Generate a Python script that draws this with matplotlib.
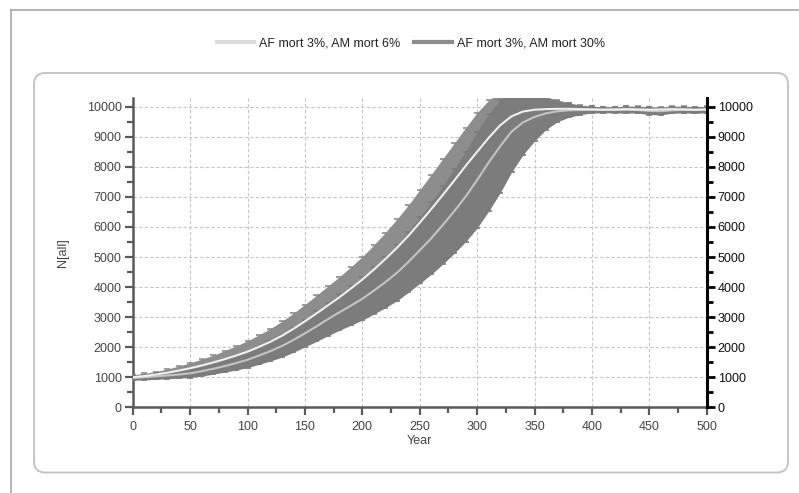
import numpy as np
import matplotlib
matplotlib.use("Agg")
import matplotlib.pyplot as plt
from matplotlib.patches import FancyBboxPatch
from matplotlib.lines import Line2D
from matplotlib.transforms import IdentityTransform
from matplotlib.ticker import MultipleLocator

# ---------------- data ----------------
years = list(range(0, 501, 10))

mean_6 = [1000, 1040, 1090, 1150, 1220, 1300, 1390, 1490, 1600, 1720,
          1850, 2010, 2180, 2380, 2610, 2860, 3120, 3390, 3660, 3950,
          4250, 4580, 4930, 5300, 5700, 6140, 6590, 7060, 7540, 8030,
          8500, 8960, 9380, 9680, 9840, 9900, 9920, 9930, 9930, 9920,
          9910, 9900, 9910, 9920, 9910, 9900, 9910, 9920, 9910, 9900, 9910]
sd_6 = [80, 90, 100, 120, 150, 180, 210, 240, 280, 320,
        360, 400, 440, 480, 520, 560, 600, 640, 680, 720,
        760, 820, 880, 950, 1020, 1090, 1150, 1200, 1240, 1270,
        1300, 1250, 1100, 900, 700, 520, 400, 300, 200, 130,
        100, 100, 90, 100, 110, 100, 90, 100, 110, 100, 100]

mean_30 = [980, 1000, 1030, 1060, 1090, 1130, 1200, 1280, 1370, 1470,
           1580, 1720, 1870, 2040, 2240, 2460, 2690, 2930, 3160, 3380,
           3610, 3880, 4160, 4470, 4830, 5220, 5620, 6060, 6520, 7010,
           7560, 8140, 8680, 9170, 9480, 9660, 9780, 9850, 9880, 9890,
           9900, 9900, 9890, 9900, 9890, 9860, 9850, 9880, 9900, 9890, 9900]
sd_30 = [80, 90, 100, 110, 120, 140, 160, 180, 200, 230,
         260, 290, 330, 370, 410, 450, 500, 550, 600, 650,
         710, 780, 850, 930, 1010, 1100, 1200, 1300, 1400, 1500,
         1600, 1620, 1550, 1350, 1080, 800, 540, 350, 230, 150,
         110, 100, 100, 110, 100, 120, 120, 100, 100, 110, 100]

label_6 = "AF mort 3%, AM mort 6%"
label_30 = "AF mort 3%, AM mort 30%"
x_ticks = list(range(0, 501, 50))
y_ticks = list(range(0, 10001, 1000))

# ---------------- figure ----------------
plt.rcParams['font.family'] = ['Liberation Sans', 'DejaVu Sans']
W, H = 799, 493
fig = plt.figure(figsize=(W / 100, H / 100), dpi=100)
fig.patch.set_facecolor('white')

# decorations (pixel coords, origin bottom-left)
ident = IdentityTransform()
fig.add_artist(Line2D([11, W], [H - 9.5, H - 9.5], transform=ident,
                      color='#a8a8a8', lw=1.2))
fig.add_artist(Line2D([11, 11], [0, H - 9.5], transform=ident,
                      color='#a8a8a8', lw=1.2))
box = FancyBboxPatch((34, H - 472.5), 788 - 34, 472.5 - 73,
                     boxstyle="round,pad=0,rounding_size=11",
                     transform=ident, facecolor='none',
                     edgecolor='#c4c4c4', lw=1.4)
fig.add_artist(box)

ax = fig.add_axes([132.7 / W, 1 - 407.3 / H, (706.7 - 132.7) / W,
                   (407.3 - 98.3) / H])
ax.set_xlim(0, 500)
ax.set_ylim(0, 10280)

yrs = np.array(years)
m6, s6 = np.array(mean_6), np.array(sd_6)
m30, s30 = np.array(mean_30), np.array(sd_30)

c6_band = '#8d8d8d'
c30_band = '#7c7c7c'

ax.fill_between(yrs, m6 - s6, m6 + s6, color=c6_band, lw=0, zorder=2)
eb6 = ax.errorbar(yrs, m6, yerr=s6, fmt='none', ecolor=c6_band,
                  elinewidth=1, capsize=2.5, capthick=1.2, zorder=2.1)
for cl in eb6[1]:
    cl.set_color('#dadada')
ax.fill_between(yrs, m30 - s30, m30 + s30, color=c30_band, lw=0, zorder=3)
eb30 = ax.errorbar(yrs, m30, yerr=s30, fmt='none', ecolor=c30_band,
                   elinewidth=1, capsize=2.5, capthick=1.2, zorder=3.1)
for cl in eb30[1]:
    cl.set_color('#d2d2d2')

ax.plot(yrs, m30, color='#c4c4c4', lw=1.5, zorder=4)
ax.plot(yrs, m6, color='#efefef', lw=1.5, zorder=4.1)

# grid
ax.set_xticks(x_ticks)
ax.set_yticks(y_ticks)
ax.xaxis.set_minor_locator(MultipleLocator(25))
ax.yaxis.set_minor_locator(MultipleLocator(500))
ax.grid(True, which='major', color='#c6c6c6', ls=(0, (3, 2)), lw=0.8,
        zorder=0)
ax.set_axisbelow(True)

for s in ['top', 'right']:
    ax.spines[s].set_visible(False)
ax.spines['left'].set_color('#5a5a5a')
ax.spines['left'].set_linewidth(1.8)
ax.spines['bottom'].set_color('#5a5a5a')
ax.spines['bottom'].set_linewidth(1.8)

lab_col = '#454545'
ax.tick_params(axis='both', which='major', direction='out', length=6,
               width=1.6, color='#5a5a5a', labelsize=9, labelcolor=lab_col,
               pad=2)
ax.tick_params(axis='x', which='major', pad=4)
ax.tick_params(axis='both', which='minor', direction='out', length=4,
               width=1.6, color='#5a5a5a')

ax.set_xlabel("Year", fontsize=9, color=lab_col, labelpad=1)
ax.set_ylabel("N[all]", fontsize=9, color=lab_col, labelpad=13)

# right axis
ax2 = ax.twinx()
ax2.set_ylim(ax.get_ylim())
ax2.set_yticks(y_ticks)
ax2.yaxis.set_minor_locator(MultipleLocator(500))
for s in ['top', 'left', 'bottom']:
    ax2.spines[s].set_visible(False)
ax2.spines['right'].set_color('black')
ax2.spines['right'].set_linewidth(2.2)
ax2.tick_params(axis='y', which='major', direction='out', length=6,
                width=2, color='black', labelsize=9, labelcolor='#111111',
                pad=2)
ax2.tick_params(axis='y', which='minor', direction='out', length=4,
                width=2, color='black')

# legend
handles = [Line2D([], [], color='#dcdcdc', lw=3),
           Line2D([], [], color='#8c8c8c', lw=3)]
fig.legend(handles, [label_6, label_30], loc='center',
           bbox_to_anchor=(411 / W, 1 - 43 / H), ncol=2, frameon=False,
           fontsize=9, handlelength=3.0, handletextpad=0.4,
           columnspacing=1.1, labelcolor='#222222')

fig.savefig("out.png", dpi=100, facecolor='white')
